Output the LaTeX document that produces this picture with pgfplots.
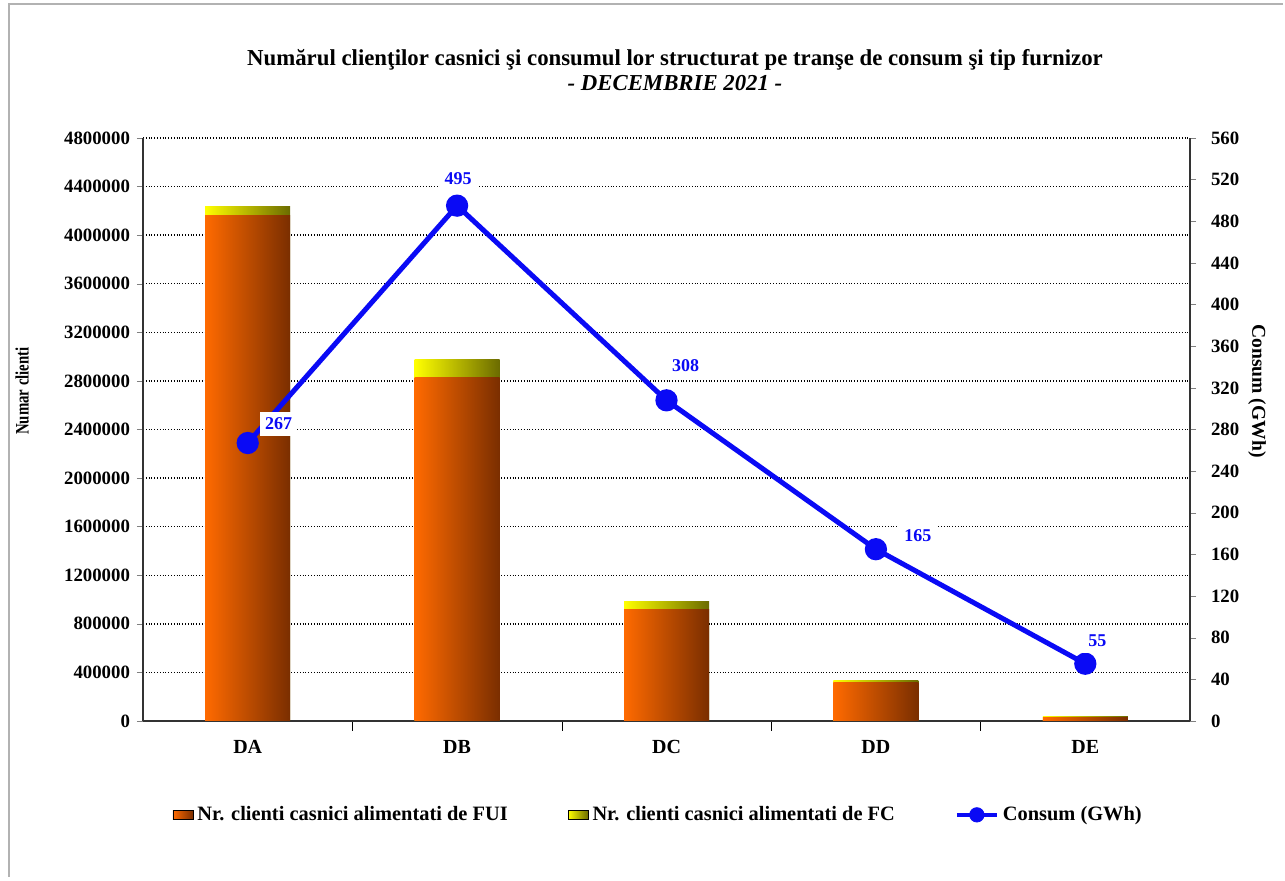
\documentclass[border=0pt]{standalone}
\usepackage{pgfplots}
\pgfplotsset{compat=1.18}
\usepackage{pgfplotstable}
\usepackage{fontspec}
\setmainfont{Liberation Serif}
\definecolor{fuiL}{HTML}{FF6A00}
\definecolor{fuiR}{HTML}{7A2E00}
\definecolor{fcL}{HTML}{FFFF00}
\definecolor{fcR}{HTML}{6B6B00}
\definecolor{lblue}{HTML}{0A0AF5}

\pgfplotstableread{
x fui fc
0 4158000 74000
1 2832000 148000
2 922000 58000
3 321000 10000
4 28000 5000
}\bars

\pgfplotstableread{
x y dx dy
0 267 15.5 9.5
1 495 0.5 13.5
2 308 9.5 17.5
3 165 21 7
4 55 6 11.5
}\cons

\begin{document}
\begin{tikzpicture}[x=0.5pt,y=0.5pt]
\path[use as bounding box] (0,0) rectangle (1285,881);
\draw[gray!60, line width=1pt] (9,4) -- (9,877) -- (1283,877);
\node[font=\bfseries\fontsize{11.4}{13.5}\selectfont, align=center] at (675,811)
  {Numărul clienţilor casnici şi consumul lor structurat pe tranşe de consum şi tip furnizor\\[-1pt] \itshape - DECEMBRIE 2021 -};

\begin{axis}[
  at={(71.5pt,80pt)}, anchor=south west,
  scale only axis, width=523.5pt, height=291.5pt,
  ybar, bar width=42.5pt,
  xmin=-0.5, xmax=4.5, ymin=0, ymax=4800000,
  xtick={0,1,2,3,4}, xticklabels={DA,DB,DC,DD,DE},
  major x tick style={draw=none},
  minor xtick={0.5,1.5,2.5,3.5},
  minor x tick style={black},
  minor tick length=5pt,
  ytick={0,400000,...,4800000},
  major tick length=3pt,
  tick align=outside,
  axis y line*=left, axis x line*=bottom,
  axis line style={black!80, line width=0.8pt},
  scaled y ticks=false,
  yticklabel style={/pgf/number format/fixed, /pgf/number format/1000 sep={}, font=\bfseries\fontsize{9.4}{10}\selectfont},
  /pgf/number format/assume math mode=true,
  xticklabel style={yshift=-3pt, font=\bfseries\fontsize{10}{11}\selectfont},
  ymajorgrids, major grid style={black, densely dotted, line width=0.7pt},
  ylabel={\scalebox{0.78}[1]{Numar clienti}},
  every axis y label/.style={at={(axis description cs:-0.1155,0.566)}, rotate=90, anchor=center, font=\bfseries\fontsize{9.5}{11}\selectfont},
  legend style={at={(axis description cs:0.493,-0.161)}, anchor=center, draw=none,
    legend columns=3, font=\bfseries\fontsize{10.2}{11}\selectfont,
    /tikz/every even column/.append style={column sep=28pt}},
  legend image code/.code={\path[#1] (0pt,-2.4pt) rectangle (10pt,2.4pt);},
]
\pgfplotsinvokeforeach{0,...,4}{
  \addplot[forget plot, bar shift=0pt, draw=none, left color=fcL, right color=fcR,
    restrict x to domain=#1:#1]
    table[x=x, y expr=\thisrow{fui}+\thisrow{fc}] {\bars};
  \addplot[forget plot, bar shift=0pt, draw=none, left color=fuiL, right color=fuiR,
    restrict x to domain=#1:#1]
    table[x=x, y=fui] {\bars};
}
\addlegendimage{left color=fuiL, right color=fuiR}
\addlegendentry{Nr. clienti casnici alimentati de FUI}
\addlegendimage{left color=fcL, right color=fcR}
\addlegendentry{Nr. clienti casnici alimentati de FC}
\addlegendimage{legend image code/.code={\draw[lblue, line width=2pt] (-2pt,0pt) -- (18pt,0pt); \fill[lblue] (8pt,0pt) circle (3.6pt);}}
\addlegendentry{Consum (GWh)}
\end{axis}

\begin{axis}[
  at={(71.5pt,80pt)}, anchor=south west,
  scale only axis, width=523.5pt, height=291.5pt,
  xmin=-0.5, xmax=4.5, ymin=0, ymax=560,
  axis y line*=right, axis x line=none,
  ytick={0,40,...,560},
  major tick length=3pt, tick align=outside,
  axis line style={black!80, line width=0.8pt},
  /pgf/number format/assume math mode=true,
  yticklabel style={font=\bfseries\fontsize{9.4}{10}\selectfont, xshift=4pt},
  ylabel={Consum (GWh)},
  every axis y label/.style={at={(axis description cs:1.064,0.566)}, rotate=-90, anchor=center, font=\bfseries\fontsize{9.8}{11}\selectfont},
  clip=false,
]
\addplot[lblue, line width=2.5pt, mark=*, mark size=4.3pt,
  visualization depends on={\thisrow{dx} \as \dx},
  visualization depends on={\thisrow{dy} \as \dy},
  nodes near coords,
  every node near coord/.append style={fill=white, inner xsep=2.5pt, inner ysep=3pt,
    font=\bfseries\fontsize{9}{10}\selectfont, text=lblue, anchor=center, xshift=\dx pt, yshift=\dy pt},
] table[x=x, y=y] {\cons};
\end{axis}
\end{tikzpicture}
\end{document}
